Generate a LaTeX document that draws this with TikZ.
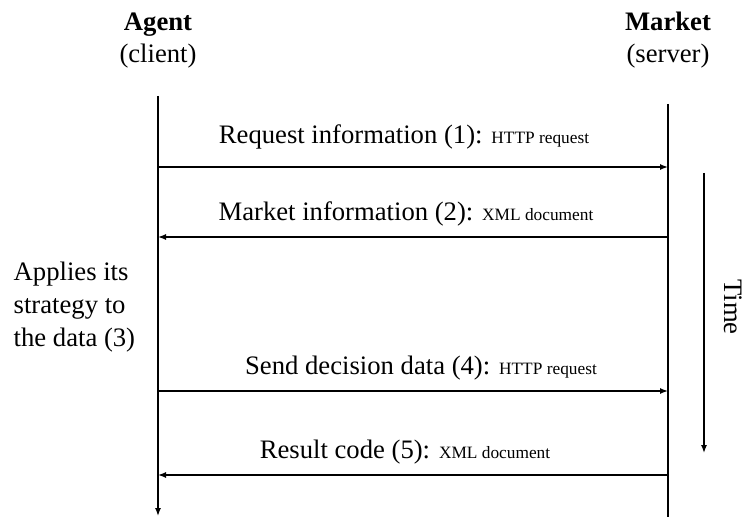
\documentclass[tikz,border=0pt]{standalone}
\usepackage{fontspec}
\setmainfont{Liberation Serif}
\usetikzlibrary{arrows.meta}
\begin{document}
\begin{tikzpicture}[x=0.75pt, y=-0.75pt, line width=1pt,
    >={Latex[length=6pt,width=4.5pt]},
    every node/.style={font=\fontsize{20}{24.5}\selectfont},
    msg/.style={anchor=base}]
            \useasboundingbox (0,0) rectangle (747,517);
            % parties
            \node[align=center, anchor=base] (agent) at (158,63) {\textbf{Agent}\\(client)};
            \node[align=center, anchor=base] (market) at (668,63) {\textbf{Market}\\(server)};
            % lifelines
            \coordinate (a0) at (158,96);
            \coordinate (a9) at (158,516);
            \coordinate (m0) at (668,104);
            \coordinate (m9) at (668,525);
            \draw[->] (a0) -- (a9);
            \draw[->] (m0) -- (m9);
            % messages
            \coordinate (a1) at (158,167); \coordinate (m1) at (668,167);
            \coordinate (a2) at (158,237); \coordinate (m2) at (668,237);
            \coordinate (a4) at (158,391); \coordinate (m4) at (668,391);
            \coordinate (a5) at (158,475); \coordinate (m5) at (668,475);
            \draw[->] (a1) -- (m1);
            \draw[->] (m2) -- (a2);
            \draw[->] (a4) -- (m4);
            \draw[->] (m5) -- (a5);
            \node[msg] (l1) at (404,144) {Request information (1): {\fontsize{13}{15}\selectfont HTTP request}};
            \node[msg] (l2) at (406,220) {Market information (2): {\fontsize{13}{15}\selectfont XML document}};
            \node[msg] (l4) at (421,374) {Send decision data (4): {\fontsize{13}{15}\selectfont HTTP request}};
            \node[msg] (l5) at (405,458) {Result code (5): {\fontsize{13}{15}\selectfont XML document}};
            % step 3
            \node[align=left, anchor=west, inner sep=0pt] (l3) at (13,307) {Applies its\\strategy to\\the data (3)};
            % time axis
            \coordinate (t0) at (704,173);
            \coordinate (t1) at (704,453);
            \draw[->] (t0) -- (t1);
            \node[rotate=-90] (time) at (733,307) {Time};
        \end{tikzpicture}
\end{document}
